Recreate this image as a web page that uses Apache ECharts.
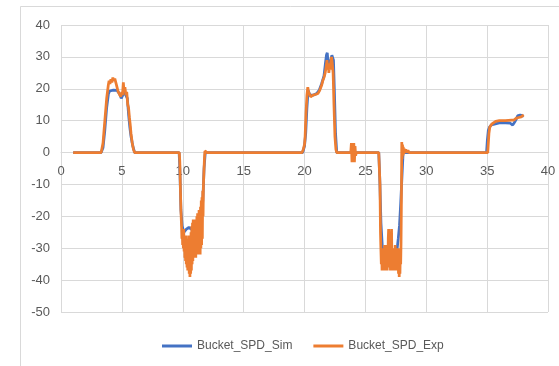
<!DOCTYPE html>
<html>
<head>
<meta charset="utf-8">
<script src="https://cdn.jsdelivr.net/npm/echarts@6/dist/echarts.min.js"></script>
<style>html,body{margin:0;padding:0;background:#fff;}#c{width:559px;height:366px;}</style>
</head>
<body>
<div id="c"></div>
<script>
const xTicks = [0, 5, 10, 15, 20, 25, 30, 35, 40];
const yTicks = [-50, -40, -30, -20, -10, 0, 10, 20, 30, 40];
const seriesNames = ['Bucket_SPD_Sim', 'Bucket_SPD_Exp'];

const simT = [1, 3.3, 3.45, 3.6, 3.75, 3.9, 4.0, 4.3, 4.6, 4.8, 4.95, 5.05, 5.2, 5.35, 5.45, 5.55, 5.65, 5.75, 5.9, 6.05,
  9.7, 9.76, 9.85, 9.95, 10.1, 10.3, 10.5, 10.7, 10.9, 11.1, 11.3, 11.5, 11.65, 11.75, 11.85,
  19.0, 19.06, 19.12, 19.85, 20.0, 20.1, 20.2, 20.3, 20.45, 20.7, 21.0, 21.2, 21.4, 21.6, 21.72, 21.8, 21.87, 21.95, 22.05, 22.15, 22.25, 22.31, 22.38, 22.45, 22.55, 22.65,
  26.1, 26.18, 26.28, 26.4, 26.8, 27.2, 27.6, 27.7, 27.8, 27.9, 28.0, 28.1, 28.2,
  34.95, 35.02, 35.1, 35.2, 35.35, 35.5, 36.0, 36.5, 36.9, 37.1, 37.25, 37.4, 37.5, 37.58, 37.65, 37.72, 37.8, 37.9, 38.0];
const simV = [0, 0, 1.5, 7, 14, 18.5, 19.3, 19.6, 19.5, 18.5, 17, 17.5, 19, 19, 17, 12, 8, 5, 2, 0,
  0, -5, -18, -23, -25, -24, -23.5, -24, -23, -24, -24, -22, -15, -5, 0,
  0, 0.6, 0, 0, 2, 6, 14, 19.5, 18, 18, 18.5, 19.5, 21.5, 24, 28, 30.5, 31.3, 27.5, 27, 29, 30.5, 31, 29, 20, 6, 0,
  0, -8, -22, -30, -31, -31, -30.5, -27, -23, -16, -8, 0, 0,
  0, 4, 7, 8, 8.7, 9, 9.3, 9.3, 9.2, 8.6, 9.5, 10.5, 11.5, 12, 11.2, 11.8, 11.3, 11.5, 11.5];

const expT = [1, 2, 3, 3.3, 3.45, 3.6, 3.75, 3.88, 3.95, 4.02, 4.1, 4.18, 4.26, 4.34, 4.42, 4.5, 4.6, 4.7, 4.8, 4.9, 5.0, 5.05, 5.12, 5.18, 5.25, 5.33, 5.4, 5.48, 5.55, 5.62, 5.68, 5.75, 5.85, 5.95, 6.05, 7, 8, 9,
  9.72, 9.76, 9.8, 9.85, 9.9, 9.93, 9.96, 9.99, 10.02, 10.05, 10.08, 10.11, 10.14, 10.17, 10.2, 10.23, 10.26, 10.29, 10.32, 10.35, 10.38, 10.41, 10.44, 10.47, 10.5, 10.53, 10.56, 10.59, 10.62, 10.65, 10.68, 10.71, 10.74, 10.77, 10.8, 10.83, 10.86, 10.89, 10.92, 10.95, 10.98, 11.01, 11.04, 11.07, 11.1, 11.13, 11.16, 11.19, 11.22, 11.25, 11.28, 11.31, 11.34, 11.37, 11.4, 11.43, 11.46, 11.49, 11.52, 11.55, 11.58, 11.61, 11.64, 11.67, 11.7, 11.74, 11.78, 11.82, 11.88, 11.94, 12.0, 13, 14, 15, 16, 17, 18, 19,
  19.8, 19.9, 20.0, 20.05, 20.12, 20.2, 20.27, 20.33, 20.4, 20.5, 20.7, 20.9, 21.1, 21.25, 21.4, 21.5, 21.6, 21.7, 21.78, 21.85, 21.9, 21.95, 22.0, 22.05, 22.1, 22.15, 22.22, 22.28, 22.35, 22.42, 22.5, 22.58, 22.65,
  23.8, 23.85, 23.9, 23.95, 24.0, 24.05, 24.1, 24.15, 24.2, 24.25, 25, 26.1,
  26.15, 26.2, 26.24, 26.28, 26.31, 26.34, 26.37, 26.4, 26.43, 26.46, 26.49, 26.52, 26.55, 26.58, 26.61, 26.64, 26.67, 26.7, 26.73, 26.76, 26.79, 26.82, 26.85, 26.88, 26.91, 26.94, 26.97, 27.0, 27.03, 27.06, 27.09, 27.12, 27.15, 27.18, 27.21, 27.24, 27.27, 27.3, 27.33, 27.36, 27.39, 27.42, 27.45, 27.48, 27.51, 27.54, 27.57, 27.6, 27.63, 27.66, 27.69, 27.72, 27.75, 27.78, 27.81, 27.84, 27.87, 27.9, 27.93, 27.96, 27.99, 28.02, 28.05, 28.08, 28.11, 28.15, 28.2, 28.26, 28.32, 28.4, 28.5, 28.6, 28.7, 28.85, 29.0, 29.2, 30, 31, 32, 33, 34, 35.05,
  35.1, 35.15, 35.22, 35.3, 35.4, 35.5, 35.7, 36.0, 36.5, 37.0, 37.2, 37.4, 37.5, 37.6, 37.7, 37.8, 37.9, 38.0];
const expV = [0, 0, 0, 0, 3, 10, 17, 21, 22.5, 21.5, 23, 22, 23.5, 22.5, 23.2, 22, 20.5, 19, 18.5, 17.5, 19, 18, 22, 19, 20.5, 18, 19, 15, 14, 11, 9, 6, 3, 1, 0, 0, 0, 0,
  0, -3, -10, -18, -23, -27, -24, -29, -25, -30, -24, -31, -26, -33, -27, -34, -26, -35, -28, -36, -27, -37, -28, -36, -26, -38, -27, -39, -26, -38, -25, -37, -23, -35, -22, -34, -21, -33, -22, -33, -21, -32, -22, -33, -21, -32, -20, -32, -19, -31, -19, -32, -18, -31, -18, -32, -17, -30, -15, -29, -14, -27, -12, -20, -10, -6, -2, 0.5, 0, 0.4, 0, 0, 0, 0, 0, 0, 0, 0,
  0, 1, 2.5, 5, 12, 18, 20.5, 19, 18.5, 17.5, 18, 18.2, 18.5, 19.5, 21, 22.5, 23.5, 25, 27, 29, 26, 28, 25, 27, 26, 28, 30, 28, 25, 15, 5, 1, 0,
  0, 3, -3, 2.5, -2.5, 3, -3, 2, -1, 0, 0, 0,
  0, -10, -25, -31, -35, -30, -37, -31, -36, -30, -37, -31, -36, -29, -37, -31, -35, -29, -36, -30, -37, -31, -35, -27, -24, -33, -30, -36, -31, -37, -30, -27, -24, -34, -30, -37, -31, -36, -30, -37, -31, -35, -29, -37, -31, -36, -30, -37, -31, -36, -30, -38, -32, -39, -33, -38, -31, -35, -28, -15, 3.3, -2, 2.5, -1, 1.8, -0.5, 1.2, 0, 1, 0, 0.7, 0, 0.5, 0, 0.3, 0, 0, 0, 0, 0, 0, 0,
  3, 6, 8, 8.5, 9, 9.5, 9.8, 10, 10, 10.2, 10.2, 10.8, 11.3, 11, 11.5, 11.2, 11.6, 11.8];

const zip = (t, v) => t.map((x, i) => [x, v[i]]);
const gridColor = '#d9d9d9';
const textColor = '#595959';
const font = 'Liberation Sans';

const gridTop = 25, gridBottom = 54, H = 366;
const plotH = H - gridTop - gridBottom;
const yMin = yTicks[0], yMax = yTicks[yTicks.length - 1];
const zeroFromBottom = plotH * (0 - yMin) / (yMax - yMin);

const chart = echarts.init(document.getElementById('c'), null, {renderer: 'canvas'});
chart.setOption({
  animation: false,
  backgroundColor: '#fff',
  graphic: [{
    type: 'rect', silent: true, z: -10,
    shape: {x: 20.5, y: 6.5, width: 600, height: 400},
    style: {fill: 'none', stroke: gridColor, lineWidth: 1}
  }],
  grid: {left: 61, right: 11, top: gridTop, bottom: gridBottom, containLabel: false},
  xAxis: {
    type: 'value', min: xTicks[0], max: xTicks[xTicks.length - 1], interval: xTicks[1] - xTicks[0],
    offset: -zeroFromBottom,
    axisLine: {show: true, onZero: false, lineStyle: {color: gridColor, width: 1}},
    axisTick: {show: false},
    axisLabel: {color: textColor, fontSize: 13, fontFamily: font, margin: 12},
    splitLine: {show: true, lineStyle: {color: gridColor, width: 1}}
  },
  yAxis: {
    type: 'value', min: yMin, max: yMax, interval: yTicks[1] - yTicks[0],
    axisLine: {show: false},
    axisTick: {show: false},
    axisLabel: {color: textColor, fontSize: 13, fontFamily: font, margin: 11},
    splitLine: {show: true, lineStyle: {color: gridColor, width: 1}}
  },
  legend: {
    bottom: 9, left: 157,
    itemWidth: 30, itemHeight: 3, itemGap: 21,
    icon: 'rect',
    textStyle: {color: textColor, fontSize: 12, fontFamily: font},
    data: seriesNames
  },
  series: [{
    name: seriesNames[0], type: 'line', data: zip(simT, simV),
    showSymbol: false, symbol: 'none', lineStyle: {color: '#4472C4', width: 2.75}, itemStyle: {color: '#4472C4'}
  }, {
    name: seriesNames[1], type: 'line', data: zip(expT, expV),
    showSymbol: false, symbol: 'none', lineStyle: {color: '#ED7D31', width: 2.75}, itemStyle: {color: '#ED7D31'}
  }]
});
</script>
</body>
</html>
